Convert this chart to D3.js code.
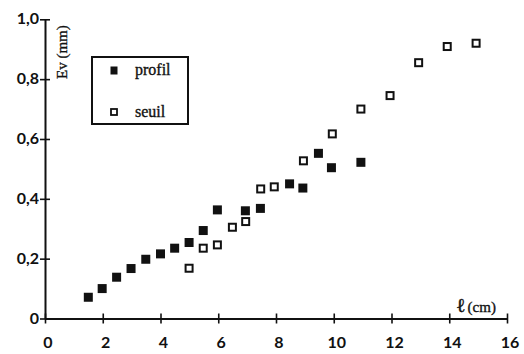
<!DOCTYPE html>
<html>
<head>
<meta charset="utf-8">
<script src="https://cdn.jsdelivr.net/npm/d3@7"></script>
<style>
  body { margin: 0; background: #fff; }
  svg { display: block; }
  .tick-label { font-family: "Lato", "Open Sans", sans-serif; font-weight: 700; font-size: 16px; fill: #111; }
  .serif { font-family: "Liberation Serif", "DejaVu Serif", serif; fill: #111; stroke: #111; stroke-width: 0.35; }
</style>
</head>
<body>
<div id="chart"></div>
<script>
// profil (filled squares)
const profilX = [1.5, 1.98, 2.48, 2.98, 3.49, 4.0, 4.49, 4.99, 5.48, 5.97, 6.94, 7.46, 8.47, 8.93, 9.47, 9.92, 10.94];
const profilY = [0.071, 0.10, 0.138, 0.167, 0.198, 0.216, 0.235, 0.254, 0.294, 0.363, 0.36, 0.368, 0.45, 0.436, 0.552, 0.504, 0.522];
// seuil (open squares)
const seuilX = [4.99, 5.48, 5.97, 6.49, 6.95, 7.47, 7.94, 8.95, 9.95, 10.94, 11.95, 12.94, 13.93, 14.93];
const seuilY = [0.168, 0.235, 0.246, 0.305, 0.324, 0.433, 0.44, 0.527, 0.617, 0.70, 0.745, 0.855, 0.909, 0.920];

const xTicks = [0, 2, 4, 6, 8, 10, 12, 14, 16];
const yTicks = [0, 0.2, 0.4, 0.6, 0.8, 1.0];
const yTickLabels = ['0', '0,2', '0,4', '0,6', '0,8', '1,0'];

const width = 524, height = 354;

const x = d3.scaleLinear().domain([0, 16]).range([45, 507]);
const y = d3.scaleLinear().domain([0, 1]).range([318.5, 19.3]);

const svg = d3.select('#chart')
  .append('svg')
  .attr('width', width)
  .attr('height', height);

// axes
const xAxis = d3.axisBottom(x)
  .tickValues(xTicks)
  .tickSize(0)
  .tickFormat('');
const yAxis = d3.axisLeft(y)
  .tickValues(yTicks)
  .tickSize(0)
  .tickFormat('');

const gx = svg.append('g')
  .attr('transform', 'translate(0,' + y(0) + ')')
  .call(xAxis);
const gy = svg.append('g')
  .attr('transform', 'translate(' + x(0) + ',0)')
  .call(yAxis);

[gx, gy].forEach(g => {
  g.select('.domain').attr('stroke', '#111').attr('stroke-width', 2);
});

// crossing tick marks
gx.selectAll('.tick line')
  .attr('stroke', '#111').attr('stroke-width', 1.6)
  .attr('y1', -5).attr('y2', 5);
gy.selectAll('.tick line')
  .attr('stroke', '#111').attr('stroke-width', 1.6)
  .attr('x1', -5).attr('x2', 5);

// tick labels
svg.append('g').selectAll('text')
  .data(xTicks)
  .join('text')
  .attr('class', 'tick-label')
  .attr('x', d => x(d) + 3)
  .attr('y', 348)
  .attr('text-anchor', 'middle')
  .text(d => d);

svg.append('g').selectAll('text')
  .data(yTicks)
  .join('text')
  .attr('class', 'tick-label')
  .attr('x', x(0) - 6)
  .attr('y', d => y(d) + 5)
  .attr('text-anchor', 'end')
  .text((d, i) => yTickLabels[i]);

// axis titles
svg.append('text')
  .attr('class', 'serif')
  .attr('transform', 'translate(67,79) rotate(-90)')
  .attr('font-size', 15)
  .text('Ev (mm)');

const xt = svg.append('text')
  .attr('class', 'serif')
  .attr('x', 456)
  .attr('y', 312)
  .attr('font-size', 15);
xt.append('tspan').attr('font-family', 'DejaVu Serif').attr('font-size', 20).text('ℓ');
xt.append('tspan').attr('dx', 2).text('(cm)');

// points
const pts = svg.append('g');
pts.selectAll('rect.profil')
  .data(profilX.map((v, i) => [v, profilY[i]]))
  .join('rect')
  .attr('class', 'profil')
  .attr('x', d => x(d[0]) - 4.5)
  .attr('y', d => y(d[1]) - 4.5)
  .attr('width', 9)
  .attr('height', 9)
  .attr('fill', '#111');

pts.selectAll('rect.seuil')
  .data(seuilX.map((v, i) => [v, seuilY[i]]))
  .join('rect')
  .attr('class', 'seuil')
  .attr('x', d => x(d[0]) - 3.5)
  .attr('y', d => y(d[1]) - 3.5)
  .attr('width', 7)
  .attr('height', 7)
  .attr('fill', '#fff')
  .attr('stroke', '#111')
  .attr('stroke-width', 2);

// legend
const legend = svg.append('g');
legend.append('rect')
  .attr('x', 92).attr('y', 57)
  .attr('width', 96).attr('height', 67)
  .attr('fill', 'none')
  .attr('stroke', '#111')
  .attr('stroke-width', 2);
legend.append('rect')
  .attr('x', 110.5).attr('y', 66.5)
  .attr('width', 7).attr('height', 8)
  .attr('fill', '#111');
legend.append('rect')
  .attr('x', 111).attr('y', 109)
  .attr('width', 6).attr('height', 6)
  .attr('fill', '#fff')
  .attr('stroke', '#111')
  .attr('stroke-width', 1.8);
legend.append('text')
  .attr('class', 'serif')
  .attr('x', 135).attr('y', 75)
  .attr('font-size', 16)
  .text('profil');
legend.append('text')
  .attr('class', 'serif')
  .attr('x', 135).attr('y', 117)
  .attr('font-size', 16)
  .text('seuil');
</script>
</body>
</html>
